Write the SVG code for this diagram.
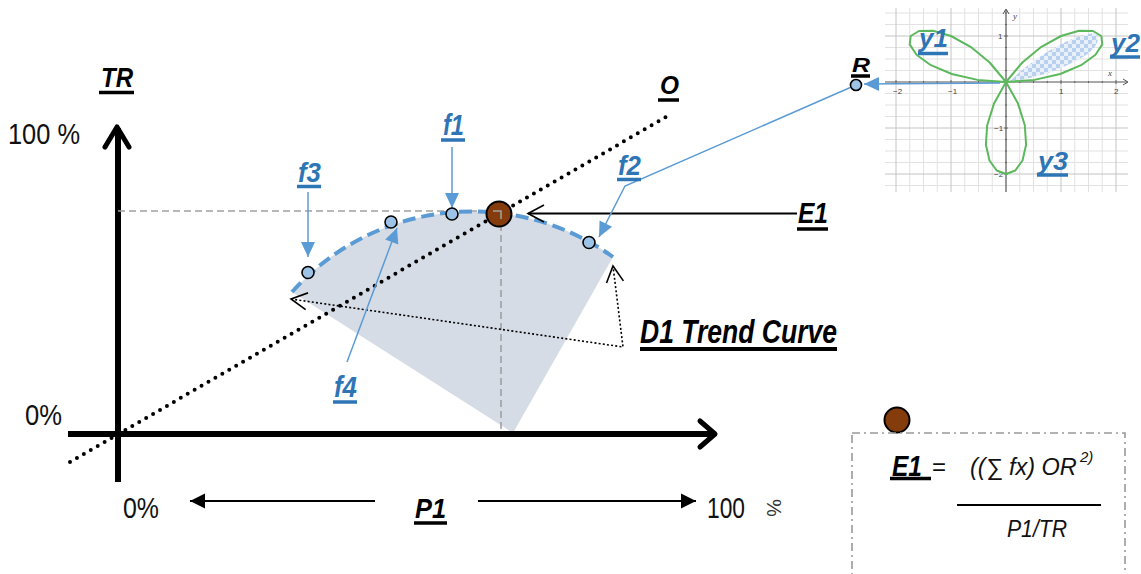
<svg xmlns="http://www.w3.org/2000/svg" width="1141" height="574" viewBox="0 0 1141 574">
<style>
.lbl{font-family:"Liberation Sans Narrow","Liberation Sans",Arial,sans-serif;font-weight:bold;font-style:italic;}
.blue{fill:#2e75b6;}
.blk{fill:#000;}
.reg{font-family:"Liberation Sans Narrow","Liberation Sans",Arial,sans-serif;fill:#111;}
.ital{font-family:"Liberation Sans Narrow","Liberation Sans",Arial,sans-serif;font-style:italic;fill:#111;}
.ulb{stroke:#2e75b6;stroke-width:3.5;}
.ulk{stroke:#000;stroke-width:3.5;}
.pt{fill:#9dc3e6;stroke:#000;stroke-width:1.6;}
.bl{stroke:#5b9bd5;stroke-width:1.5;fill:none;}
.minor{stroke:#e2e2e2;stroke-width:1;fill:none;}
.major{stroke:#c4c4c4;stroke-width:1;fill:none;}
.tick{font-family:"Liberation Sans",Arial,sans-serif;font-size:8px;fill:#444;}
</style>
<defs>
<marker id="bh" markerUnits="userSpaceOnUse" markerWidth="18" markerHeight="16" refX="15" refY="7" orient="auto" overflow="visible">
<path d="M0,0 L15,7 L0,14 Z" fill="#5b9bd5"/>
</marker>
<marker id="kt" markerUnits="userSpaceOnUse" markerWidth="18" markerHeight="18" refX="15" refY="7.5" orient="auto" overflow="visible">
<path d="M0,0 L15,7.5 L0,15 Z" fill="#000"/>
</marker>
<marker id="oc" markerUnits="userSpaceOnUse" markerWidth="20" markerHeight="20" refX="0" refY="0" orient="auto-start-reverse" overflow="visible">
<path d="M-16,-8.5 L0,0 L-16,8.5" fill="none" stroke="#000" stroke-width="1.6"/>
</marker>
<pattern id="chk" patternUnits="userSpaceOnUse" width="8" height="8">
<rect width="8" height="8" fill="#e8f0fa"/>
<rect width="4" height="4" fill="#b9d0ee"/>
<rect x="4" y="4" width="4" height="4" fill="#b9d0ee"/>
</pattern>
</defs>
<rect width="1141" height="574" fill="#fff"/>

<!-- inset rose graph -->
<g id="inset-graph">
<rect x="885" y="5" width="245" height="188" fill="#fff"/>
<path class="minor" d="M909.75,8V192M923.5,8V192M937.25,8V192M964.75,8V192M978.5,8V192M992.25,8V192M1019.75,8V192M1033.5,8V192M1047.25,8V192M1074.75,8V192M1088.5,8V192M1102.25,8V192M885,13H1128M885,24.5H1128M885,47.5H1128M885,59H1128M885,70.5H1128M885,93.5H1128M885,105H1128M885,116.5H1128M885,139.5H1128M885,151H1128M885,162.5H1128M885,185.5H1128"/>
<path class="major" d="M896,8V192M951,8V192M1061,8V192M1116,8V192M885,36H1128M885,128H1128M885,174H1128"/>
<path d="M885,82H1127M1006,192V10" stroke="#555" stroke-width="1.2" fill="none"/>
<path d="M1123,79L1128,82L1123,85M1003,14L1006,9L1009,14" stroke="#555" stroke-width="1" fill="none"/>
<path d="M896,80V84M909.75,81V83M923.5,81V83M937.25,81V83M951,80V84M964.75,81V83M978.5,81V83M992.25,81V83M1019.75,81V83M1033.5,81V83M1047.25,81V83M1061,80V84M1074.75,81V83M1088.5,81V83M1102.25,81V83M1116,80V84M1004,36H1008M1005,47.5H1007M1005,59H1007M1005,70.5H1007M1005,93.5H1007M1005,105H1007M1005,116.5H1007M1004,128H1008M1005,139.5H1007M1005,151H1007M1005,162.5H1007M1004,174H1008M1005,24.5H1007M1005,13H1007" stroke="#555" stroke-width="0.8" fill="none"/>
<text class="tick" x="893" y="94">−2</text>
<text class="tick" x="948" y="94">−1</text>
<text class="tick" x="1059" y="94">1</text>
<text class="tick" x="1114" y="94">2</text>
<text class="tick" x="998" y="39">1</text>
<text class="tick" x="994" y="131">−1</text>
<text class="tick" x="994" y="177">−2</text>
<text x="1108" y="76" font-family="Liberation Serif,serif" font-style="italic" font-size="9" fill="#444">x</text>
<text x="1013" y="19" font-family="Liberation Serif,serif" font-style="italic" font-size="9" fill="#444">y</text>
<path d="M1010,81 C1030,62 1062,38 1094,33 C1102,36 1097,48 1086,55 C1066,68 1036,79 1010,81 Z" fill="url(#chk)"/>
<path d="M1006,82 L1034.4,79.9 L1060.2,74 L1081.1,65.2 L1095.5,54.7 L1102.3,44.4 L1101.3,36 L1093,31 L1079,30.8 L1061,36 L1041.4,46.8 L1022.3,62.5 L1006,82 L994,103.6 L987.2,125.2 L985.9,144.8 L989.5,160.5 L996.7,170.5 L1006,174 L1015.3,170.5 L1022.5,160.5 L1026.1,144.8 L1024.8,125.2 L1018,103.6 L1006,82 L989.7,62.5 L970.6,46.8 L951,36 L933,30.8 L919,31 L910.7,36 L909.7,44.4 L916.5,54.7 L930.9,65.2 L951.8,74 L977.6,79.9 Z" fill="none" stroke="#5cb85c" stroke-width="2" stroke-linejoin="round"/>
</g>

<!-- shaded sector with trend arc -->
<g id="sector">
<path d="M292,292 A241.4,241.4 0 0 1 613,257 L513,433 Z" fill="#d6dce5"/>
</g>

<!-- axes -->
<g id="axes">
<path d="M68,434 H713" stroke="#000" stroke-width="6"/>
<path d="M700,421 L715,434 L700,447" fill="none" stroke="#000" stroke-width="5" stroke-linejoin="round" stroke-linecap="round"/>
<path d="M118,482 V128" stroke="#000" stroke-width="6"/>
<path d="M105,147 L117,127 L129,147" fill="none" stroke="#000" stroke-width="5" stroke-linejoin="round" stroke-linecap="round"/>
<text class="reg" x="8" y="144" font-size="30" textLength="72" lengthAdjust="spacingAndGlyphs">100 %</text>
<text class="reg" x="25" y="425" font-size="30" textLength="37" lengthAdjust="spacingAndGlyphs">0%</text>
<text class="reg" x="123" y="518" font-size="30" textLength="36" lengthAdjust="spacingAndGlyphs">0%</text>
<text class="reg" x="707" y="518" font-size="30" textLength="38" lengthAdjust="spacingAndGlyphs">100</text>
<text class="reg" x="0" y="0" font-size="20" transform="translate(767,499) rotate(90)" style="fill:#333">%</text>
</g>

<!-- connectors -->
<g id="connectors">
<path d="M70,462 L666,117" stroke="#000" stroke-width="4" stroke-dasharray="0 8" stroke-linecap="round" fill="none"/>
<path d="M118,211 H501 V433" stroke="#a0a0a0" stroke-width="1.6" stroke-dasharray="7 4" fill="none"/>
<path d="M292,292 A241.4,241.4 0 0 1 613,257" fill="none" stroke="#5b9bd5" stroke-width="4" stroke-dasharray="13 6"/>
<path d="M291,299 L623,347 L613,266" fill="none" stroke="#000" stroke-width="1.6" stroke-dasharray="2 2.2" marker-start="url(#oc)" marker-end="url(#oc)"/>
<path d="M797,213.5 H528" stroke="#000" stroke-width="2" fill="none" marker-end="url(#oc)"/>
<path class="bl" d="M452,147 V208" marker-end="url(#bh)"/>
<path class="bl" d="M308,192 V257" marker-end="url(#bh)"/>
<path class="bl" d="M347,362 L397,228" marker-end="url(#bh)"/>
<path class="bl" d="M856,85 L625,186 L599,237" marker-end="url(#bh)"/>
<path class="bl" d="M1000,83 L864,84" marker-end="url(#bh)"/>
<path d="M375,501 H190" stroke="#000" stroke-width="1.8" marker-end="url(#kt)"/>
<path d="M478,501 H696" stroke="#000" stroke-width="1.8" marker-end="url(#kt)"/>
</g>

<!-- nodes -->
<g id="node-E1">
<circle cx="499" cy="214" r="12.5" fill="#843c0c" stroke="#000" stroke-width="2"/>
<path d="M493,211 H501 V219" stroke="#a0a0a0" stroke-width="1.6" fill="none"/>
<text class="lbl blk" x="798" y="223" font-size="29" textLength="30" lengthAdjust="spacingAndGlyphs">E1</text>
<line class="ulk" x1="797" y1="229" x2="828" y2="229"/>
</g>
<g id="node-f1">
<circle class="pt" cx="452" cy="214" r="6"/>
<text class="lbl blue" x="443" y="135" font-size="30" textLength="21" lengthAdjust="spacingAndGlyphs">f1</text>
<line class="ulb" x1="441" y1="140" x2="465" y2="140"/>
</g>
<g id="node-f2">
<circle class="pt" cx="589" cy="242.5" r="6"/>
<text class="lbl blue" x="618" y="175" font-size="28" textLength="23" lengthAdjust="spacingAndGlyphs">f2</text>
<line class="ulb" x1="617" y1="179.5" x2="641" y2="179.5"/>
</g>
<g id="node-f3">
<circle class="pt" cx="308" cy="272.5" r="6"/>
<text class="lbl blue" x="298" y="182" font-size="28" textLength="23" lengthAdjust="spacingAndGlyphs">f3</text>
<line class="ulb" x1="297" y1="186.5" x2="321" y2="186.5"/>
</g>
<g id="node-f4">
<circle class="pt" cx="391" cy="222" r="6"/>
<text class="lbl blue" x="334" y="397" font-size="30" textLength="23" lengthAdjust="spacingAndGlyphs">f4</text>
<line class="ulb" x1="333" y1="402" x2="357" y2="402"/>
</g>
<g id="node-R">
<text class="lbl blk" x="852" y="72" font-size="21" textLength="18" lengthAdjust="spacingAndGlyphs">R</text>
<line class="ulk" x1="851" y1="76" x2="870" y2="76"/>
<circle class="pt" cx="856" cy="85" r="5.5"/>
</g>
<g id="label-TR">
<text class="lbl blk" x="101" y="87" font-size="28" textLength="32" lengthAdjust="spacingAndGlyphs">TR</text>
<line class="ulk" x1="99" y1="92.5" x2="134" y2="92.5"/>
</g>
<g id="label-O">
<text class="lbl blk" x="660" y="94" font-size="25" textLength="19" lengthAdjust="spacingAndGlyphs">O</text>
<line class="ulk" x1="658" y1="100" x2="679" y2="100"/>
</g>
<g id="label-P1">
<text class="lbl blk" x="415" y="518" font-size="28" textLength="31" lengthAdjust="spacingAndGlyphs">P1</text>
<line class="ulk" x1="414" y1="523" x2="447" y2="523"/>
</g>
<g id="label-D1">
<text class="lbl blk" x="640" y="343" font-size="33" textLength="197" lengthAdjust="spacingAndGlyphs">D1 Trend Curve</text>
<line x1="640" y1="349" x2="837" y2="349" stroke="#000" stroke-width="4"/>
</g>
<g id="label-y1">
<text class="lbl blue" x="919" y="47" font-size="26" textLength="29" lengthAdjust="spacingAndGlyphs">y1</text>
<line class="ulb" x1="918" y1="53.5" x2="948" y2="53.5"/>
</g>
<g id="label-y2">
<text class="lbl blue" x="1111" y="52" font-size="26" textLength="29" lengthAdjust="spacingAndGlyphs">y2</text>
<line class="ulb" x1="1110" y1="57" x2="1140" y2="57"/>
</g>
<g id="label-y3">
<text class="lbl blue" x="1038" y="170" font-size="26" textLength="30" lengthAdjust="spacingAndGlyphs">y3</text>
<line class="ulb" x1="1037" y1="175" x2="1068" y2="175"/>
</g>

<!-- formula box -->
<g id="formula">
<circle cx="897" cy="420" r="12.5" fill="#843c0c" stroke="#000" stroke-width="2"/>
<rect x="852" y="433" width="273" height="200" fill="none" stroke="#999" stroke-width="1.6" stroke-dasharray="8 4 2 4"/>
<text class="lbl blk" x="892" y="476" font-size="30" textLength="30" lengthAdjust="spacingAndGlyphs">E1</text>
<line class="ulk" x1="890" y1="478.5" x2="931" y2="478.5"/>
<text class="reg" x="932" y="475" font-size="24">=</text>
<text class="ital" x="970" y="475" font-size="23.5">((∑ fx) OR</text>
<text class="ital" x="1080" y="462" font-size="15">2)</text>
<line x1="957" y1="505" x2="1101" y2="505" stroke="#000" stroke-width="2"/>
<text class="ital" x="1007" y="537" font-size="23" textLength="60" lengthAdjust="spacingAndGlyphs">P1/TR</text>
</g>
</svg>
